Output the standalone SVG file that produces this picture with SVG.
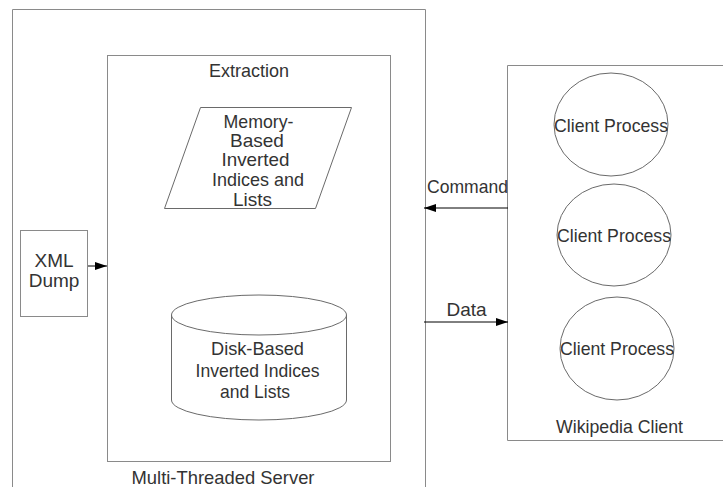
<svg xmlns="http://www.w3.org/2000/svg" width="723" height="487" viewBox="0 0 723 487">
<style>
.box{fill:none;stroke:#8a8a8a;stroke-width:1}
.shape{fill:none;stroke:#6a6a6a;stroke-width:1}
.t{font-family:"Liberation Sans",Arial,sans-serif;font-size:19px;fill:#333;text-anchor:middle}
.c{stroke:#000;stroke-width:1;fill:none}
</style>
<defs>
<marker id="ah" markerWidth="12" markerHeight="8" refX="12" refY="4" orient="auto" markerUnits="userSpaceOnUse">
<path d="M0,0 L12,4 L0,8 Z" fill="#000"/>
</marker>
</defs>
<rect width="723" height="487" fill="#fff"/>
<g id="server">
<path class="box" d="M12.5,490 V9.5 H425.5 V490"/>
<text class="t" x="223" y="484" textLength="183" lengthAdjust="spacingAndGlyphs">Multi-Threaded Server</text>
</g>
<g id="extraction">
<rect class="box" x="107.5" y="55.5" width="283" height="406"/>
<text class="t" x="249" y="77" textLength="80" lengthAdjust="spacingAndGlyphs">Extraction</text>
</g>
<g id="xml-dump">
<rect class="box" x="20.5" y="230.5" width="67" height="86"/>
<text class="t" x="54" y="267">XML</text>
<text class="t" x="54" y="287">Dump</text>
</g>
<g id="memory">
<path class="shape" d="M200.5,107.5 H351.5 L315.5,208.5 H164.5 Z"/>
<text class="t" x="258.5" y="127.5" textLength="70" lengthAdjust="spacingAndGlyphs">Memory-</text>
<text class="t" x="257" y="146.5">Based</text>
<text class="t" x="255.5" y="166" textLength="68" lengthAdjust="spacingAndGlyphs">Inverted</text>
<text class="t" x="258" y="186" textLength="92" lengthAdjust="spacingAndGlyphs">Indices and</text>
<text class="t" x="252.5" y="205.5">Lists</text>
</g>
<g id="disk">
<path class="shape" d="M171.5,315 V400 A87.5,20 0 0 0 346.5,400 V315"/>
<ellipse class="shape" cx="259" cy="315" rx="87.5" ry="20"/>
<text class="t" x="257.5" y="355" textLength="93" lengthAdjust="spacingAndGlyphs">Disk-Based</text>
<text class="t" x="257.5" y="376.5" textLength="124" lengthAdjust="spacingAndGlyphs">Inverted Indices</text>
<text class="t" x="255" y="398" textLength="70" lengthAdjust="spacingAndGlyphs">and Lists</text>
</g>
<g id="client">
<path class="box" d="M730,65.5 H507.5 V440.5 H730"/>
<text class="t" x="619.5" y="433" textLength="127" lengthAdjust="spacingAndGlyphs">Wikipedia Client</text>
</g>
<g id="cp1">
<ellipse class="shape" cx="611" cy="124.5" rx="57" ry="51.5"/>
<text class="t" x="611" y="131.5" textLength="114" lengthAdjust="spacingAndGlyphs">Client Process</text>
</g>
<g id="cp2">
<ellipse class="shape" cx="614" cy="235" rx="57" ry="51"/>
<text class="t" x="614" y="241.5" textLength="114" lengthAdjust="spacingAndGlyphs">Client Process</text>
</g>
<g id="cp3">
<ellipse class="shape" cx="617" cy="348.5" rx="57" ry="51.5"/>
<text class="t" x="617" y="355" textLength="114" lengthAdjust="spacingAndGlyphs">Client Process</text>
</g>
<g id="connectors">
<line class="c" x1="88" y1="266" x2="107" y2="266" marker-end="url(#ah)"/>
<line class="c" x1="508" y1="208" x2="424" y2="208" marker-end="url(#ah)"/>
<line class="c" x1="424" y1="322" x2="508" y2="322" marker-end="url(#ah)"/>
<text class="t" x="467.5" y="193" textLength="81" lengthAdjust="spacingAndGlyphs">Command</text>
<text class="t" x="466.5" y="316">Data</text>
</g>
</svg>
